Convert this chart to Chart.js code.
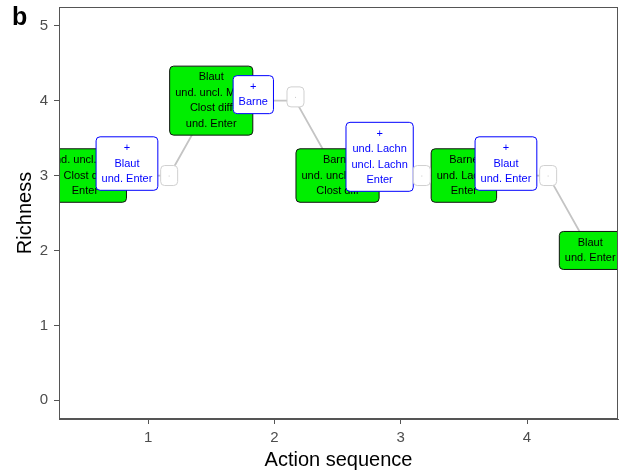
<!DOCTYPE html>
<html>
<head>
<meta charset="utf-8">
<script src="https://cdn.jsdelivr.net/npm/chart.js@4"></script>
<style>
  body { margin: 0; background: #fff; }
  canvas { display: block; }
</style>
</head>
<body>
<canvas id="graphe" width="621" height="476"></canvas>
<script>
// path of the community along the action sequence
var actionStep = [0.5, 0.833, 1.167, 1.5, 1.833, 2.167, 2.5, 2.833, 3.167, 3.5, 3.833, 4.167, 4.5];
var richness   = [3, 3, 3, 4, 4, 4, 3, 3, 3, 3, 3, 3, 2];

// green labels = community present at each step
var baseX = [0.5, 1.5, 2.5, 3.5, 4.5];
var baseY = [3, 4, 3, 3, 2];
var baseText = [
  ["und. uncl. Muri", "Clost diff", "Enter"],
  ["Blaut", "und. uncl. Muri", "Clost diff", "und. Enter"],
  ["Barne", "und. uncl. Muri", "Clost diff"],
  ["Barne", "und. Lachn", "Enter"],
  ["Blaut", "und. Enter"]
];

// blue labels = taxa added
var addX = [0.833, 1.833, 2.833, 3.833];
var addY = [3.16, 4.08, 3.25, 3.16];
var addText = [
  ["+", "Blaut", "und. Enter"],
  ["+", "Barne"],
  ["+", "und. Lachn", "uncl. Lachn", "Enter"],
  ["+", "Blaut", "und. Enter"]
];

// empty grey labels
var emptyX = [1.167, 2.167, 3.167, 4.167];
var emptyY = [3, 4.05, 3, 3];

var xTicks = [1, 2, 3, 4];
var yTicks = [0, 1, 2, 3, 4, 5];

var pts = actionStep.map(function (v, i) { return { x: v, y: richness[i] }; });

function boiteRonde(ctx, x, y, w, h, r) {
  ctx.beginPath();
  ctx.moveTo(x + r, y);
  ctx.lineTo(x + w - r, y);
  ctx.quadraticCurveTo(x + w, y, x + w, y + r);
  ctx.lineTo(x + w, y + h - r);
  ctx.quadraticCurveTo(x + w, y + h, x + w - r, y + h);
  ctx.lineTo(x + r, y + h);
  ctx.quadraticCurveTo(x, y + h, x, y + h - r);
  ctx.lineTo(x, y + r);
  ctx.quadraticCurveTo(x, y, x + r, y);
  ctx.closePath();
}

function dessineLabel(ctx, cx, cy, lignes, fond, bord, couleurTexte) {
  var lh = 15.5, padX = 5.5, padY = 3.5;
  ctx.font = "11px 'Liberation Sans', Arial, sans-serif";
  var w = 0;
  lignes.forEach(function (l) { w = Math.max(w, ctx.measureText(l).width); });
  var bw = w + 2 * padX, bh = lignes.length * lh + 2 * padY;
  boiteRonde(ctx, cx - bw / 2, cy - bh / 2, bw, bh, 4);
  ctx.fillStyle = fond;
  ctx.fill();
  ctx.lineWidth = 1;
  ctx.strokeStyle = bord;
  ctx.stroke();
  ctx.fillStyle = couleurTexte;
  ctx.textAlign = "center";
  ctx.textBaseline = "middle";
  lignes.forEach(function (l, i) {
    ctx.fillText(l, cx, cy - bh / 2 + padY + lh * (i + 0.5));
  });
}

var labelsPlugin = {
  id: "labels",
  afterDatasetsDraw: function (chart) {
    var ctx = chart.ctx, a = chart.chartArea;
    var sx = chart.scales.x, sy = chart.scales.y;
    ctx.save();
    ctx.beginPath();
    ctx.rect(a.left, a.top, a.right - a.left, a.bottom - a.top);
    ctx.clip();
    baseX.forEach(function (v, i) {
      dessineLabel(ctx, sx.getPixelForValue(v), sy.getPixelForValue(baseY[i]), baseText[i], "#00ee00", "#111111", "#000000");
    });
    addX.forEach(function (v, i) {
      dessineLabel(ctx, sx.getPixelForValue(v), sy.getPixelForValue(addY[i]), addText[i], "#ffffff", "#0000ff", "#0000ff");
    });
    emptyX.forEach(function (v, i) {
      var cx = sx.getPixelForValue(v), cy = sy.getPixelForValue(emptyY[i]);
      boiteRonde(ctx, cx - 8.5, cy - 10, 17, 20, 4);
      ctx.fillStyle = "#ffffff";
      ctx.fill();
      ctx.strokeStyle = "#d0d0d0";
      ctx.lineWidth = 1;
      ctx.stroke();
      ctx.fillStyle = "#c8c8c8";
      ctx.fillRect(cx - 0.5, cy, 1, 1);
    });
    ctx.restore();

    // panel border
    ctx.save();
    ctx.strokeStyle = "#555555";
    ctx.lineWidth = 1;
    ctx.strokeRect(a.left + 0.5, a.top + 0.5, a.right - a.left - 1, a.bottom - a.top - 1);
    // panel tag
    ctx.fillStyle = "#000";
    ctx.font = "bold 25px 'Liberation Sans', Arial, sans-serif";
    ctx.textAlign = "left";
    ctx.textBaseline = "alphabetic";
    ctx.fillText("b", 12, 25);
    ctx.restore();
  }
};

var ctx = document.getElementById("graphe");
new Chart(ctx, {
  type: "scatter",
  data: {
    datasets: [{
      data: pts,
      showLine: true,
      borderColor: "#c4c4c4",
      borderWidth: 1.8,
      pointRadius: 0,
      fill: false
    }]
  },
  options: {
    responsive: false,
    animation: false,
    layout: { padding: { top: 7, right: 3, left: 0, bottom: 0 } },
    plugins: { legend: { display: false }, tooltip: { enabled: false } },
    scales: {
      x: {
        type: "linear",
        min: 0.295,
        max: 4.72,
        afterBuildTicks: function (s) { s.ticks = xTicks.map(function (v) { return { value: v }; }); },
        afterFit: function (s) { s.height = 57; s.paddingLeft = 0; s.paddingRight = 0; },
        grid: { display: true, drawOnChartArea: false, drawTicks: true, tickLength: 5, color: "#555555" },
        border: { display: true, color: "#555555" },
        ticks: { color: "#4d4d4d", font: { family: "'Liberation Sans', Arial, sans-serif", size: 15 }, padding: 5, maxRotation: 0 },
        title: { display: true, text: "Action sequence", color: "#000", font: { family: "'Liberation Sans', Arial, sans-serif", size: 20 }, padding: { top: 0, bottom: 4 } }
      },
      y: {
        type: "linear",
        min: -0.25,
        max: 5.25,
        afterBuildTicks: function (s) { s.ticks = yTicks.map(function (v) { return { value: v }; }); },
        afterFit: function (s) { s.width = 59; s.paddingTop = 0; s.paddingBottom = 0; },
        grid: { display: true, drawOnChartArea: false, drawTicks: true, tickLength: 5, color: "#555555" },
        border: { display: true, color: "#555555" },
        ticks: { color: "#4d4d4d", font: { family: "'Liberation Sans', Arial, sans-serif", size: 15 }, padding: 6 },
        title: { display: true, text: "Richness", color: "#000", font: { family: "'Liberation Sans', Arial, sans-serif", size: 20 }, padding: { top: 13, bottom: 0 } }
      }
    }
  },
  plugins: [labelsPlugin]
});
</script>
</body>
</html>
